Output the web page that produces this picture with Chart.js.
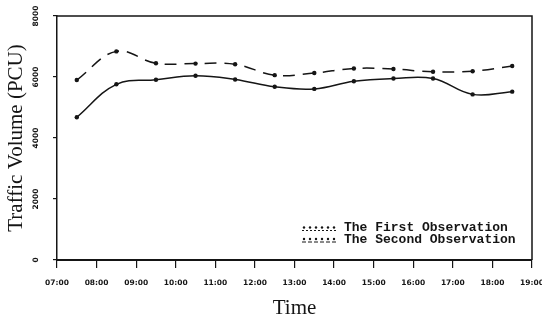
<!DOCTYPE html>
<html>
<head>
<meta charset="utf-8">
<script src="https://cdn.jsdelivr.net/npm/chart.js@4.4.1/dist/chart.umd.min.js"></script>
<style>
  html, body { margin: 0; padding: 0; background: #fff; }
  #wrap { position: relative; width: 542px; height: 322px; }
</style>
</head>
<body>
<div id="wrap"><canvas id="line-chart" width="542" height="322"></canvas></div>
<script>
// observation times (hours), halfway through each hour
var obsTimes = [7.5, 8.5, 9.5, 10.5, 11.5, 12.5, 13.5, 14.5, 15.5, 16.5, 17.5, 18.5];
var firstObs = [4680, 5760, 5910, 6040, 5920, 5680, 5610, 5860, 5950, 5950, 5430, 5520];
var secondObs = [5900, 6840, 6450, 6440, 6420, 6060, 6130, 6280, 6260, 6170, 6190, 6360];
var xTickLabels = ["07:00", "08:00", "09:00", "10:00", "11:00", "12:00", "13:00",
  "14:00", "15:00", "16:00", "17:00", "18:00", "19:00"];
var yTickLabels = ["0", "2000", "4000", "6000", "8000"];

var ink = "#151515";

function points(ys) {
  return ys.map(function (y, i) { return { x: obsTimes[i], y: y }; });
}

// box round the plot (top and right edges)
var frame = {
  id: "frame",
  afterDraw: function (chart) {
    var a = chart.chartArea, ctx = chart.ctx;
    ctx.save();
    ctx.strokeStyle = ink;
    ctx.lineWidth = 1.5;
    ctx.beginPath();
    ctx.moveTo(a.left, a.top);
    ctx.lineTo(a.right, a.top);
    ctx.lineTo(a.right, a.bottom);
    ctx.stroke();
    ctx.restore();
  }
};

// legend drawn inside the plot, lower right
var innerLegend = {
  id: "innerLegend",
  afterDraw: function (chart) {
    var a = chart.chartArea, ctx = chart.ctx;
    var x0 = a.right - 230, y0 = a.bottom - 32;
    ctx.save();
    chart.data.datasets.forEach(function (ds, i) {
      var y = y0 + i * 11.5;
      ctx.strokeStyle = ink;
      ctx.lineWidth = 1;
      ctx.setLineDash(ds.borderDash.length ? [4, 2] : [2, 2]);
      ctx.beginPath();
      ctx.moveTo(x0, y + 2.5);
      ctx.lineTo(x0 + 34, y + 2.5);
      ctx.stroke();
      ctx.setLineDash([]);
      ctx.fillStyle = ink;
      for (var k = 0; k < 6; k++) {
        ctx.beginPath();
        ctx.arc(x0 + 2 + k * 6, y - 0.5, 1.2, 0, Math.PI * 2);
        ctx.fill();
      }
      ctx.font = "bold 13px 'Liberation Mono'";
      ctx.textBaseline = "middle";
      ctx.fillText(ds.label, x0 + 42, y);
    });
    ctx.restore();
  }
};

var config = {
  type: "line",
  data: {
    datasets: [
      {
        label: "The First Observation",
        data: points(firstObs),
        borderColor: ink,
        backgroundColor: ink,
        borderWidth: 1.5,
        borderDash: [],
        pointRadius: 2.2,
        pointBackgroundColor: ink,
        pointBorderWidth: 0,
        tension: 0.4,
        fill: false
      },
      {
        label: "The Second Observation",
        data: points(secondObs),
        borderColor: ink,
        backgroundColor: ink,
        borderWidth: 1.5,
        borderDash: [12, 8],
        pointRadius: 2.2,
        pointBackgroundColor: ink,
        pointBorderWidth: 0,
        tension: 0.4,
        fill: false
      }
    ]
  },
  options: {
    responsive: false,
    animation: false,
    layout: { padding: { left: 0, right: 10, top: 16, bottom: 0 } },
    plugins: {
      legend: { display: false },
      tooltip: { enabled: false }
    },
    scales: {
      x: {
        type: "linear",
        min: 7,
        max: 19,
        // last label runs off the edge in the original, so no extra room for it
        afterFit: function (s) { s.height = 62; s.paddingLeft = 0; s.paddingRight = 0; },
        ticks: {
          stepSize: 1,
          autoSkip: false,
          maxRotation: 0,
          padding: 11,
          color: ink,
          font: { family: "DejaVu Sans", size: 7.5, weight: "bold" },
          callback: function (v) { return xTickLabels[v - 7]; }
        },
        grid: { drawOnChartArea: false, drawTicks: true, tickLength: 8, color: ink, lineWidth: 1.2 },
        border: { color: ink, width: 2 },
        title: {
          display: true,
          text: "Time",
          color: ink,
          padding: { top: 0, bottom: 1 },
          font: { family: "Liberation Serif", size: 21 }
        }
      },
      y: {
        min: 0,
        max: 8000,
        afterFit: function (s) { s.width = 57; s.paddingTop = 0; s.paddingBottom = 0; },
        ticks: {
          stepSize: 2000,
          minRotation: 90,
          maxRotation: 90,
          crossAlign: "center",
          padding: 7,
          color: ink,
          font: { family: "DejaVu Sans", size: 7.5, weight: "bold" },
          callback: function (v) { return yTickLabels[v / 2000]; }
        },
        grid: { drawOnChartArea: false, drawTicks: true, tickLength: 4, color: ink, lineWidth: 1.2 },
        border: { color: ink, width: 1.5 },
        title: {
          display: true,
          text: "Traffic Volume (PCU)",
          color: ink,
          padding: { top: 4, bottom: 0 },
          font: { family: "Liberation Serif", size: 21 }
        }
      }
    }
  },
  plugins: [frame, innerLegend]
};

var ctx = document.getElementById("line-chart").getContext("2d");
window.lineChartInstance = new Chart(ctx, config);
</script>
</body>
</html>
